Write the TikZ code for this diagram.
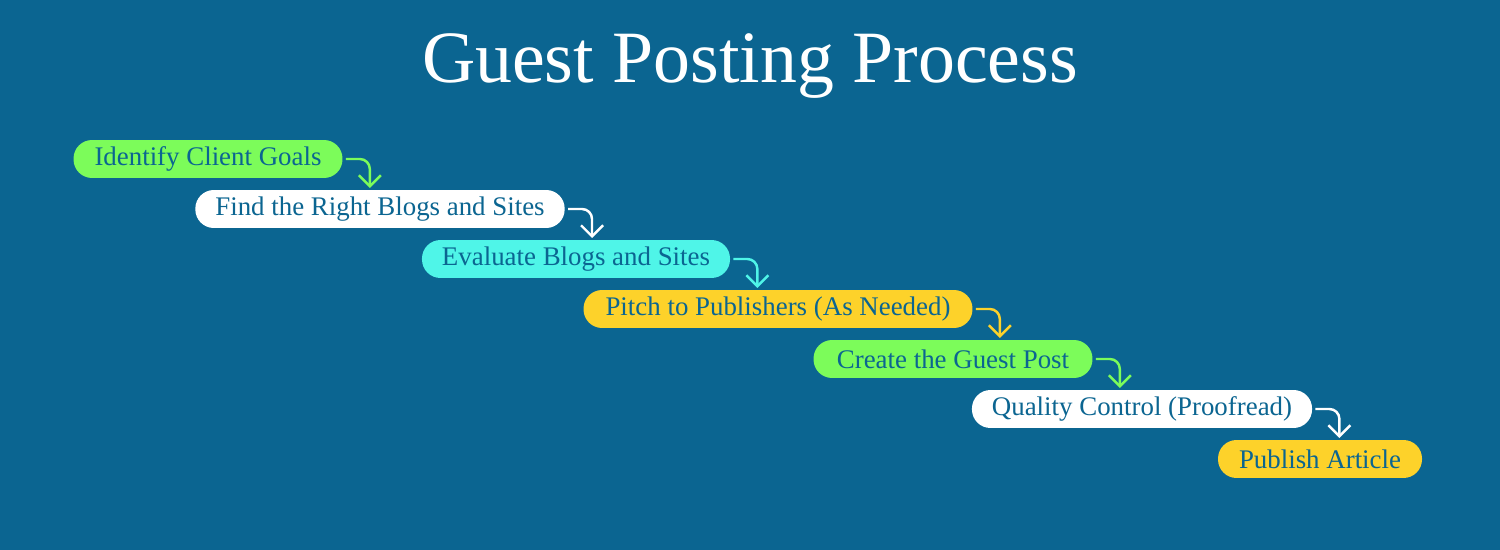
\documentclass[tikz,border=0pt]{standalone}
\usepackage{fontspec}
\setmainfont{Liberation Serif}
\usetikzlibrary{calc, arrows.meta, positioning}
\definecolor{bg}{HTML}{0B6591}
\definecolor{lgreen}{HTML}{7CFC5A}
\definecolor{lcyan}{HTML}{4FF5E8}
\definecolor{lyellow}{HTML}{FDD22A}
\tikzstyle{step box} = [rectangle, rounded corners=0.37cm, minimum height=0.76cm, inner xsep=0.4cm, text=bg, font=\fontsize{15.3}{17}\selectfont]
\tikzstyle{flow} = [draw, line width=1.4pt, rounded corners=0.2cm, -{Straight Barb[length=2.2mm, width=4.4mm]}]

\begin{document}
\begin{tikzpicture}[x=0.02cm, y=-0.02cm]
\fill[bg] (0,0) rectangle (1500,550);
\node [text=white, font=\fontsize{42}{46}\selectfont] (title) at (750,66) {Guest Posting Process};
\node [step box, fill=lgreen, minimum width=5.38cm] (goals) at (208,159) {Identify Client Goals};
\node [step box, fill=white, minimum width=7.34cm] (find) at (380,209) {Find the Right Blogs and Sites};
\node [step box, fill=lcyan, minimum width=6.16cm] (evaluate) at (576,259) {Evaluate Blogs and Sites};
\node [step box, fill=lyellow, minimum width=7.78cm] (pitch) at (778,309) {Pitch to Publishers (As Needed)};
\node [step box, fill=lgreen, minimum width=5.58cm] (create) at (953,359) {Create the Guest Post};
\node [step box, fill=white, minimum width=6.8cm] (quality) at (1142,409) {Quality Control (Proofread)};
\node [step box, fill=lyellow, minimum width=4.08cm] (publish) at (1320,459) {Publish Article};
\path [flow, lgreen] ($(goals.east)+(3,0)$) -- ++(24,0) -- ++(0,29);
\path [flow, white] ($(find.east)+(3,0)$) -- ++(24,0) -- ++(0,29);
\path [flow, lcyan] ($(evaluate.east)+(3,0)$) -- ++(24,0) -- ++(0,29);
\path [flow, lyellow] ($(pitch.east)+(3,0)$) -- ++(24,0) -- ++(0,29);
\path [flow, lgreen] ($(create.east)+(3,0)$) -- ++(24,0) -- ++(0,29);
\path [flow, white] ($(quality.east)+(3,0)$) -- ++(24,0) -- ++(0,29);
\end{tikzpicture}
\end{document}
